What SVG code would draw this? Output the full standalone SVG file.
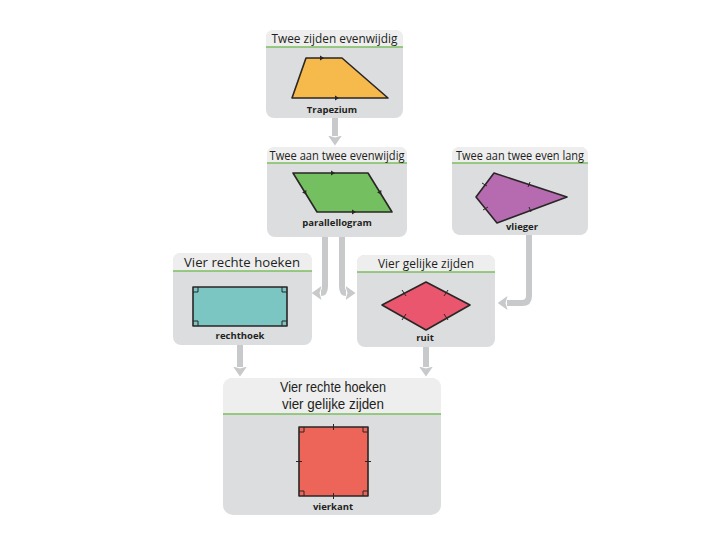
<svg xmlns="http://www.w3.org/2000/svg" width="720" height="540" viewBox="0 0 720 540">
<style>
.body{fill:#DCDDDF}
.head{fill:#EEEEEF}
.gl{stroke:#7DBE5F;stroke-width:1.6}
.title{font-family:"Open Sans","Liberation Sans",sans-serif;font-size:12.5px;fill:#231F20;text-anchor:middle}
.big{font-family:"Liberation Sans",sans-serif;font-size:14.5px;fill:#231F20;text-anchor:middle}
.lab{font-family:"Open Sans","Liberation Sans",sans-serif;font-size:9.5px;font-weight:bold;fill:#231F20;text-anchor:middle}
.sh{stroke:#2A2626;stroke-width:1.6;stroke-linejoin:round}
.tk{stroke:#2A2626;stroke-width:1;fill:none}
.ta{fill:#2A2626}
.conn{fill:none;stroke:#C8C9CB;stroke-width:6}
</style>
<defs>
<marker id="ah" markerUnits="userSpaceOnUse" viewBox="0 0 10 14" markerWidth="10" markerHeight="14" refX="0.5" refY="7" orient="auto">
<path d="M0,0 L10,7 L0,14 L2,7 z" fill="#C8C9CB"/>
</marker>
</defs>
<rect width="720" height="540" fill="#FFFFFF"/>

<g id="connectors">
<path class="conn" d="M335,118 V136" marker-end="url(#ah)"/>
<path class="conn" d="M325,237 V286 Q325,293 321,293" marker-end="url(#ah)"/>
<path class="conn" d="M342,237 V286 Q342,293 346,293" marker-end="url(#ah)"/>
<path class="conn" d="M529,235 V296 Q529,303 522,303 H507" marker-end="url(#ah)"/>
<path class="conn" d="M240,345 V367" marker-end="url(#ah)"/>
<path class="conn" d="M426,347 V367" marker-end="url(#ah)"/>
</g>

<g id="trapezium">
<rect class="body" x="266" y="30" width="137" height="88" rx="8"/>
<path class="head" d="M266,47 V38 Q266,30 274,30 H395 Q403,30 403,38 V47 Z"/>
<line class="gl" x1="266" y1="47" x2="403" y2="47"/>
<text class="title" x="334.5" y="43" textLength="126" lengthAdjust="spacingAndGlyphs">Twee zijden evenwijdig</text>
<polygon class="sh" fill="#F6B94C" points="306,58 342,58 388,98 292,98"/>
<path class="ta" d="M320,55.5 L324,58 L320,60.5 z M335,95.5 L339,98 L335,100.5 z"/>
<text class="lab" x="332" y="113">Trapezium</text>
</g>

<g id="parallellogram">
<rect class="body" x="267" y="147" width="140" height="90" rx="8"/>
<path class="head" d="M267,163 V155 Q267,147 275,147 H399 Q407,147 407,155 V163 Z"/>
<line class="gl" x1="267" y1="163" x2="407" y2="163"/>
<text class="title" x="337" y="160" textLength="135" lengthAdjust="spacingAndGlyphs">Twee aan twee evenwijdig</text>
<polygon class="sh" fill="#74BF5F" points="293,173 368,173 392,212 317,212"/>
<path class="ta" d="M331,170.5 L335,173 L331,175.5 z M352,209.5 L356,212 L352,214.5 z M306.3,194.6 L306.3,189.9 L302.1,192.5 z M381.3,194.6 L381.3,189.9 L377.1,192.5 z"/>
<text class="lab" x="337" y="226">parallellogram</text>
</g>

<g id="vlieger">
<rect class="body" x="452" y="147" width="136" height="88" rx="8"/>
<path class="head" d="M452,163 V155 Q452,147 460,147 H580 Q588,147 588,155 V163 Z"/>
<line class="gl" x1="452" y1="163" x2="588" y2="163"/>
<text class="title" x="520" y="160" textLength="128" lengthAdjust="spacingAndGlyphs">Twee aan twee even lang</text>
<polygon class="sh" fill="#B66BB1" points="494,173 567,197 497,223 476,197"/>
<path class="tk" d="M482,183 L487,186 M483,210 L488,207 M530,182 L528,187 M531,212 L529,207"/>
<text class="lab" x="522" y="230">vlieger</text>
</g>

<g id="rechthoek">
<rect class="body" x="173" y="253" width="139" height="92" rx="8"/>
<path class="head" d="M173,271 V261 Q173,253 181,253 H304 Q312,253 312,261 V271 Z"/>
<line class="gl" x1="173" y1="271" x2="312" y2="271"/>
<text class="title" x="242" y="267" textLength="116" lengthAdjust="spacingAndGlyphs">Vier rechte hoeken</text>
<rect class="sh" fill="#7BC6C2" x="193" y="287" width="94" height="39"/>
<path class="tk" d="M193,292 H198 V287 M282,287 V292 H287 M193,321 H198 V326 M282,326 V321 H287"/>
<text class="lab" x="240" y="339">rechthoek</text>
</g>

<g id="ruit">
<rect class="body" x="357" y="255" width="138" height="92" rx="8"/>
<path class="head" d="M357,272 V263 Q357,255 365,255 H487 Q495,255 495,263 V272 Z"/>
<line class="gl" x1="357" y1="272" x2="495" y2="272"/>
<text class="title" x="426" y="268" textLength="96" lengthAdjust="spacingAndGlyphs">Vier gelijke zijden</text>
<polygon class="sh" fill="#E9566E" points="426,282 470,305 426,330 382,305"/>
<path class="tk" d="M402,290 L406,296 M448,290 L444,296 M402,320 L406,314 M448,320 L444,314"/>
<text class="lab" x="425" y="341">ruit</text>
</g>

<g id="vierkant">
<rect class="body" x="223" y="378" width="218" height="137" rx="10"/>
<path class="head" d="M223,414 V388 Q223,378 233,378 H431 Q441,378 441,388 V414 Z"/>
<line class="gl" x1="223" y1="414" x2="441" y2="414"/>
<text class="big" x="333" y="392" textLength="106" lengthAdjust="spacingAndGlyphs">Vier rechte hoeken</text>
<text class="big" x="333" y="409" textLength="102" lengthAdjust="spacingAndGlyphs">vier gelijke zijden</text>
<rect class="sh" fill="#EC6558" x="299" y="427" width="69" height="69"/>
<path class="tk" d="M299,432 H304 V427 M363,427 V432 H368 M299,491 H304 V496 M363,496 V491 H368 M333.5,424 V430 M333.5,493 V499 M296,461.5 H302 M365,461.5 H371"/>
<text class="lab" x="333" y="510">vierkant</text>
</g>
</svg>
